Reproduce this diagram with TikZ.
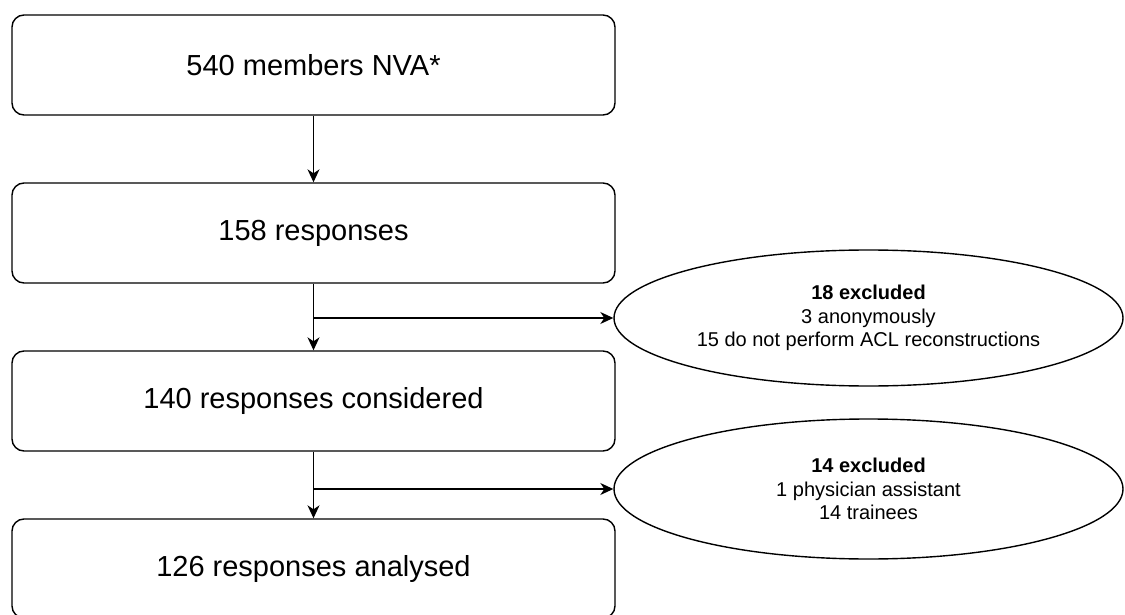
\documentclass[tikz,border=0pt]{standalone}
\usepackage{fontspec}
\setmainfont{Liberation Sans}
\usetikzlibrary{shapes.geometric,arrows.meta,calc}
\begin{document}
\begin{tikzpicture}[x=1pt,y=-1pt,
  stepbox/.style={draw=black,line width=1.4pt,rounded corners=12pt,minimum width=603pt,minimum height=100pt,inner sep=0pt,font=\fontsize{29}{34}\selectfont},
  exbox/.style={ellipse,draw=black,line width=1.4pt,minimum width=509pt,inner sep=0pt,align=center,font=\fontsize{20}{23.5}\selectfont},
  arr/.style={line width=1.4pt,-{Stealth[length=13pt,width=12pt,inset=4pt]}},
  ln/.style={line width=1.4pt}]
\useasboundingbox (0,0) rectangle (1125,615);
\fill[white] (0,0) rectangle (1125,615);
\node[stepbox] (b1) at (313.5,65) {540 members NVA*};
\node[stepbox] (b2) at (313.5,233) {158 responses};
\node[stepbox] (b3) at (313.5,401) {140 responses considered};
\node[stepbox,minimum height=99pt] (b4) at (313.5,568.5) {126 responses analysed};
\node[exbox,minimum height=136pt] (e1) at (868.5,318) {\textbf{18 excluded}\\3 anonymously\\15 do not perform ACL reconstructions};
\node[exbox,minimum height=140pt] (e2) at (868.5,489) {\textbf{14 excluded}\\1 physician assistant\\14 trainees};
\coordinate (j1) at (b2.south |- e1.west);
\coordinate (j2) at (b3.south |- e2.west);
\draw[arr] (b1) -- (b2);
\draw[arr] (b2) -- (b3);
\draw[arr] (b3) -- (b4);
\draw[arr] (j1) -- (e1.west);
\draw[arr] (j2) -- (e2.west);
\end{tikzpicture}
\end{document}
